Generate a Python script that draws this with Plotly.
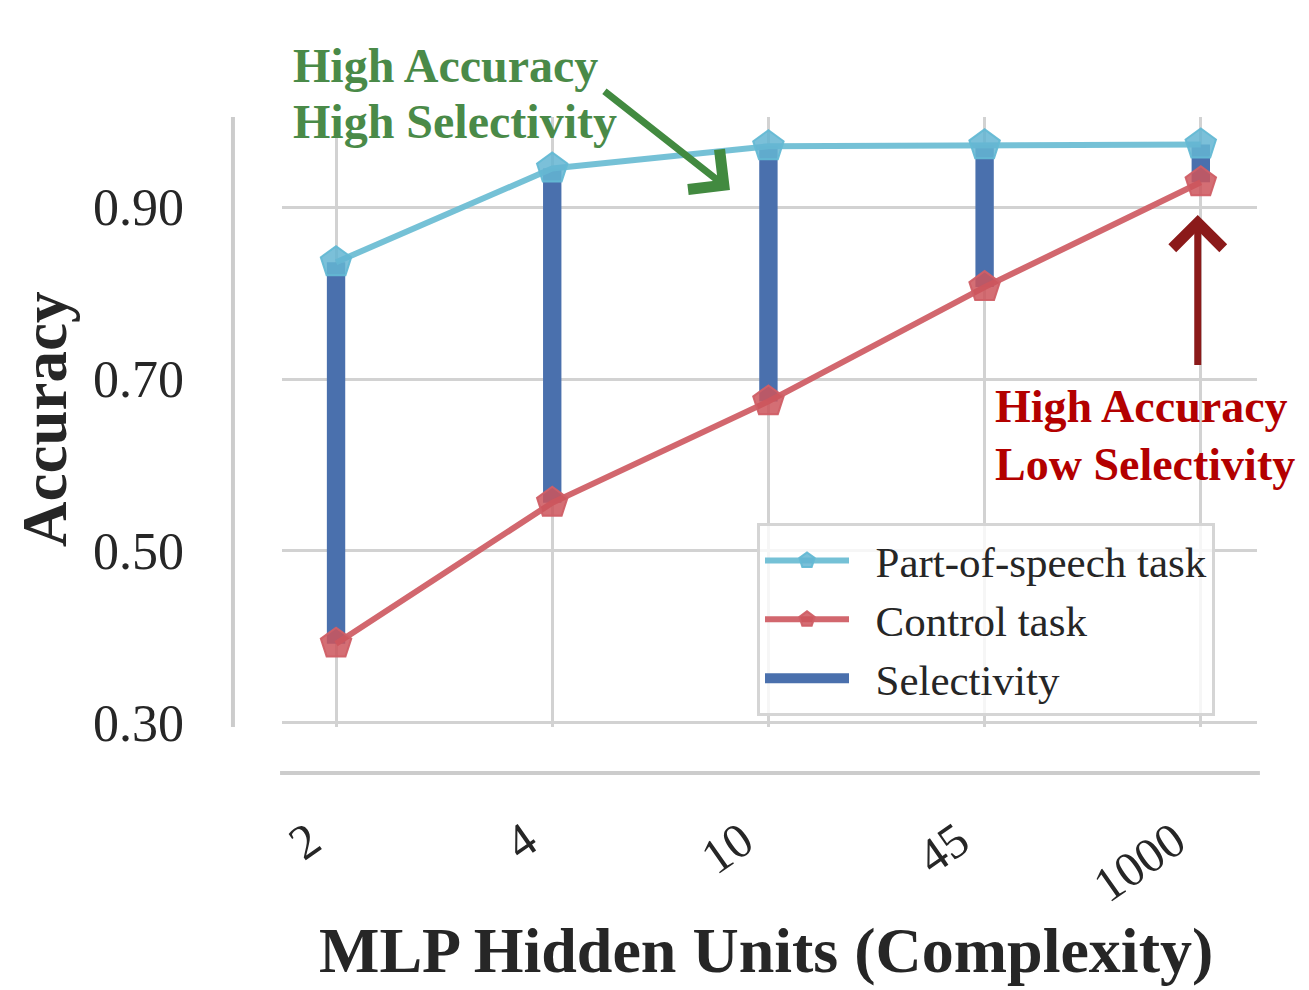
import plotly.graph_objects as go

units = ["2", "4", "10", "45", "1000"]
pos_acc = [0.836, 0.945, 0.971, 0.972, 0.973]
ctrl_acc = [0.392, 0.556, 0.674, 0.807, 0.929]
selectivity = [p - c for p, c in zip(pos_acc, ctrl_acc)]
y_ticks = [0.30, 0.50, 0.70, 0.90]
y_tick_labels = ["0.30", "0.50", "0.70", "0.90"]

SERIF = "Liberation Serif"
TXT = "#262626"
GRID = "#d2d2d2"
BLUE = "#4a70ad"

fig = go.Figure()
fig.add_trace(go.Bar(
    x=units, y=selectivity, base=ctrl_acc, width=0.085,
    marker=dict(color=BLUE, line=dict(width=0)),
    name="Selectivity", showlegend=False,
))
fig.add_trace(go.Scatter(
    x=units, y=pos_acc, mode="lines+markers", name="\u00a0\u00a0Part-of-speech task",
    line=dict(color="rgba(110,190,212,0.95)", width=6),
    marker=dict(symbol="pentagon", size=32, color="rgba(100,181,210,0.85)",
                line=dict(color="rgba(100,185,212,0.95)", width=2)),
    legendrank=1,
))
fig.add_trace(go.Scatter(
    x=units, y=ctrl_acc, mode="lines+markers", name="\u00a0\u00a0Control task",
    line=dict(color="rgba(208,95,102,0.95)", width=6),
    marker=dict(symbol="pentagon", size=32, color="rgba(205,85,92,0.85)",
                line=dict(color="rgba(208,95,102,0.95)", width=2)),
    legendrank=2,
))
# legend entry for the selectivity bars (same colour as bars)
fig.add_trace(go.Scatter(
    x=[None], y=[None], mode="lines", name="\u00a0\u00a0Selectivity",
    line=dict(color=BLUE, width=20), legendrank=3,
))

# offset spines (seaborn despine style)
fig.add_shape(type="line", xref="paper", yref="y", x0=-0.0503, x1=-0.0503,
              y0=0.295, y1=1.005, line=dict(color="#cccccc", width=4), layer="below")
fig.add_shape(type="line", xref="paper", yref="paper", x0=-0.002, x1=1.003,
              y0=-0.0754, y1=-0.0754, line=dict(color="#cccccc", width=4), layer="below")

# arrows
fig.add_annotation(x=1.822, y=0.920, xref="x", yref="y", ax=-127, ay=-100,
                   showarrow=True, arrowhead=4, arrowsize=1.4, arrowwidth=7, standoff=0,
                   arrowcolor="#428a40", text=" ", font=dict(size=1))
fig.add_annotation(x=3.986, y=0.891, xref="x", yref="y", ax=0, ay=152,
                   showarrow=True, arrowhead=4, arrowsize=1.4, arrowwidth=7, standoff=0,
                   arrowcolor="#8b1a1a", text=" ", font=dict(size=1))

# annotation texts (page px -> paper coords)
def px(xp):
    return (xp - 8 - 274) / 975.0

def py(yp):
    return (719 - (yp - 8)) / 610.0

for txt, yc in [("<b>High Accuracy</b>", 66), ("<b>High Selectivity</b>", 121)]:
    fig.add_annotation(x=px(291), y=py(yc), xref="paper", yref="paper", xanchor="left",
                       yanchor="middle", text=txt, showarrow=False,
                       font=dict(family=SERIF, size=48, color="#4a8a48"))
for txt, yc in [("<b>High Accuracy</b>", 406), ("<b>Low Selectivity</b>", 464)]:
    fig.add_annotation(x=px(993), y=py(yc), xref="paper", yref="paper", xanchor="left",
                       yanchor="middle", text=txt, showarrow=False,
                       font=dict(family=SERIF, size=46, color="#b30000"))

# axis titles
fig.add_annotation(x=px(766), y=py(951), xref="paper", yref="paper", xanchor="center",
                   yanchor="middle", text="<b>MLP Hidden Units (Complexity)</b>", showarrow=False,
                   font=dict(family=SERIF, size=64, color=TXT))
fig.add_annotation(x=px(45), y=py(420), xref="paper", yref="paper", xanchor="center",
                   yanchor="middle", text="<b>Accuracy</b>", showarrow=False, textangle=-90,
                   font=dict(family=SERIF, size=63, color=TXT))

fig.update_layout(
    width=1309, height=990,
    margin=dict(l=274, r=60, t=109, b=271),
    paper_bgcolor="white", plot_bgcolor="white",
    showlegend=True,
    legend=dict(x=px(757), y=py(523), xanchor="left", yanchor="top",
                bgcolor="rgba(255,255,255,0.8)", bordercolor="#d5d5d5", borderwidth=3,
                font=dict(family=SERIF, size=43, color=TXT), itemwidth=84,
                tracegroupgap=0, traceorder="normal"),
    xaxis=dict(type="category", range=[-0.25, 4.26], showgrid=True, gridcolor=GRID, gridwidth=3,
               showline=False, zeroline=False, tickangle=-35, ticklabelstandoff=75,
               ticklabelshift=-26, tickfont=dict(family=SERIF, size=49, color=TXT)),
    yaxis=dict(range=[0.295, 1.005], tickvals=y_ticks, ticktext=y_tick_labels,
               showgrid=True, gridcolor=GRID, gridwidth=3, showline=False, zeroline=False,
               ticklabelstandoff=97, tickfont=dict(family=SERIF, size=52, color=TXT)),
)

fig.write_html("out.html")
